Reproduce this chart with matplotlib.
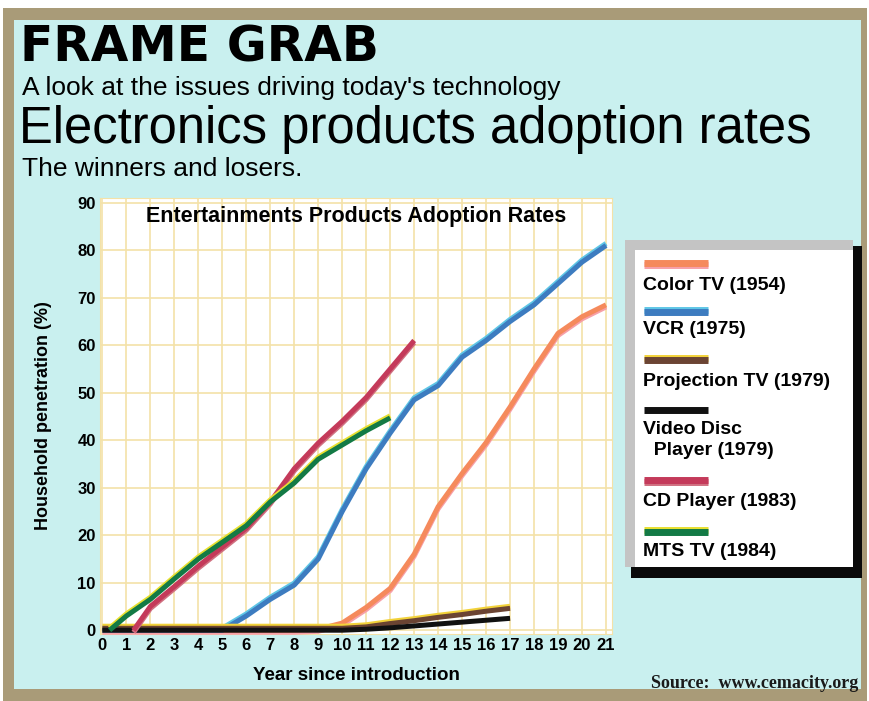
import numpy as np
import matplotlib
matplotlib.use("Agg")
import matplotlib.pyplot as plt
import matplotlib.patheffects as pe
from matplotlib.patches import Rectangle
from matplotlib.lines import Line2D

# values (years since introduction, % of households)
years_color = list(range(0, 22))
color_tv = [0, 0, 0, 0, 0, 0, 0, 0, 0, 0.2, 1.5, 4.8, 8.8, 16, 26, 33, 39.5, 47, 55, 62.5, 66, 68.5]
years_vcr = list(range(0, 22))
vcr = [0, 0, 0, 0, 0, 0, 3, 6.5, 9.5, 15, 25, 34, 41.5, 48.5, 51.5, 57.5, 61, 65, 68.5, 73, 77.5, 81]
years_proj = list(range(0, 18))
projection_tv = [0.4, 0.4, 0.4, 0.4, 0.4, 0.4, 0.4, 0.4, 0.4, 0.4, 0.4, 0.7, 1.4, 2.0, 2.7, 3.3, 4.0, 4.6]
years_disc = list(range(0, 18))
video_disc = [0, 0, 0, 0, 0, 0, 0, 0, 0, 0, 0, 0.2, 0.5, 0.9, 1.3, 1.7, 2.1, 2.5]
years_cd = [1.3, 2, 3, 4, 5, 6, 7, 8, 9, 10, 11, 12, 13]
cd_player = [0, 5, 9.2, 13.5, 17.5, 21.5, 27, 34, 39.4, 44, 49, 55, 61]
years_mts = [0.3, 1, 2, 3, 4, 5, 6, 7, 8, 9, 10, 11, 12]
mts_tv = [0, 3, 6.5, 10.8, 15, 18.5, 22, 27, 31, 36, 39, 42, 44.7]

labels = ["Color TV (1954)", "VCR (1975)", "Projection TV (1979)",
          "Video Disc\n  Player (1979)", "CD Player (1983)", "MTS TV (1984)"]
colors = ["#f58a5c", "#3d7cc0", "#6b4433", "#111111", "#c43a5a", "#137a45"]
edge = ["#f7a0a8", "#5fc6e6", "#f2d23a", None, "#d07080", "#e8e030"]
edge_off = [-1.5, 1.5, 1.5, 0, -1.5, 1.5]

W, H = 870, 701
fx = lambda px: px / W
fy = lambda py: 1 - py / H

plt.rcParams['font.family'] = ['Liberation Sans', 'DejaVu Sans']

fig = plt.figure(figsize=(8.7, 7.01), dpi=100, facecolor="white")
# frame and background
fig.patches.append(Rectangle((fx(3), 0), fx(867) - fx(3), fy(8), transform=fig.transFigure,
                             facecolor="#a99b78", edgecolor="none", zorder=-3))
fig.patches.append(Rectangle((fx(14), fy(689)), fx(861) - fx(14), fy(20) - fy(689),
                             transform=fig.transFigure, facecolor="#c9f0ef", edgecolor="none", zorder=-2))

fig.text(fx(20), fy(47), "FRAME GRAB", fontsize=35, fontweight="bold", family="DejaVu Sans",
         va="center", ha="left")
fig.text(fx(22), fy(88), "A look at the issues driving today's technology", fontsize=19,
         va="center", ha="left")
fig.text(fx(19), fy(130), "Electronics products adoption rates", fontsize=36.5,
         va="center", ha="left")
fig.text(fx(22), fy(169), "The winners and losers.", fontsize=19, va="center", ha="left")

ax = fig.add_axes([fx(100), fy(634), fx(612) - fx(100), fy(198) - fy(634)])
ax.set_facecolor("white")
ax.set_xlim(-0.1, 21.25)
ax.set_ylim(-0.8, 91)
ax.set_xticks(range(0, 22))
ax.set_yticks(range(0, 91, 10))
ax.grid(True, color="#f4e2a8", lw=1.2)
ax.set_axisbelow(True)
for s in ax.spines.values():
    s.set_color("#f4e2a8")
ax.tick_params(length=0, labelsize=12, pad=3)
for t in ax.get_xticklabels() + ax.get_yticklabels():
    t.set_fontweight("bold")
ax.set_ylabel("Household penetration (%)", fontsize=13, fontweight="bold", labelpad=18)
ax.set_xlabel("Year since introduction", fontsize=13.5, fontweight="bold", labelpad=10)
ax.text(0.5, 0.982, "Entertainments Products Adoption Rates", transform=ax.transAxes,
        ha="center", va="top", fontsize=15.5, fontweight="bold")

series = [(years_color, color_tv), (years_vcr, vcr), (years_proj, projection_tv),
          (years_disc, video_disc), (years_cd, cd_player), (years_mts, mts_tv)]
lw = 3.6
order = [2, 3, 0, 1, 5, 4]
for i in order:
    xs, ys = series[i]
    fx_list = []
    if edge[i]:
        fx_list = [pe.Stroke(linewidth=lw, foreground=edge[i], offset=(0, edge_off[i])), pe.Normal()]
    ax.plot(xs, ys, color=colors[i], lw=lw, solid_capstyle="butt", solid_joinstyle="round",
            path_effects=fx_list, clip_on=False, zorder=3 + i)

# legend box
fig.patches.append(Rectangle((fx(631), fy(578)), fx(862) - fx(631), fy(246) - fy(578),
                             transform=fig.transFigure, facecolor="#0a0a0a", edgecolor="none", zorder=5))
fig.patches.append(Rectangle((fx(625), fy(567)), fx(853) - fx(625), fy(240) - fy(567),
                             transform=fig.transFigure, facecolor="#c4c4c4", edgecolor="none", zorder=5))
fig.patches.append(Rectangle((fx(635), fy(567)), fx(853) - fx(635), fy(250) - fy(567),
                             transform=fig.transFigure, facecolor="white", edgecolor="none", zorder=5))

sw_y = [263, 312, 360, 410, 480, 532]
tx_y = [285, 330, 382, 440, 502, 552]
for i in range(6):
    fx_list = []
    if edge[i]:
        fx_list = [pe.Stroke(linewidth=5, foreground=edge[i], offset=(0, edge_off[i])), pe.Normal()]
    fig.lines.append(Line2D([fx(644), fx(708)], [fy(sw_y[i]), fy(sw_y[i])], transform=fig.transFigure,
                            color=colors[i], lw=5, solid_capstyle="butt", path_effects=fx_list, zorder=6))
    fig.text(fx(643), fy(tx_y[i]), labels[i], fontsize=14, fontweight="bold", ha="left",
             va="center", linespacing=1.25, zorder=7)

fig.text(fx(858), fy(683), "Source:  www.cemacity.org", family="Liberation Serif", fontsize=13,
         fontweight="bold", ha="right", va="center", color="#1a1a1a")

fig.savefig("out.png", dpi=100, facecolor=fig.get_facecolor())
